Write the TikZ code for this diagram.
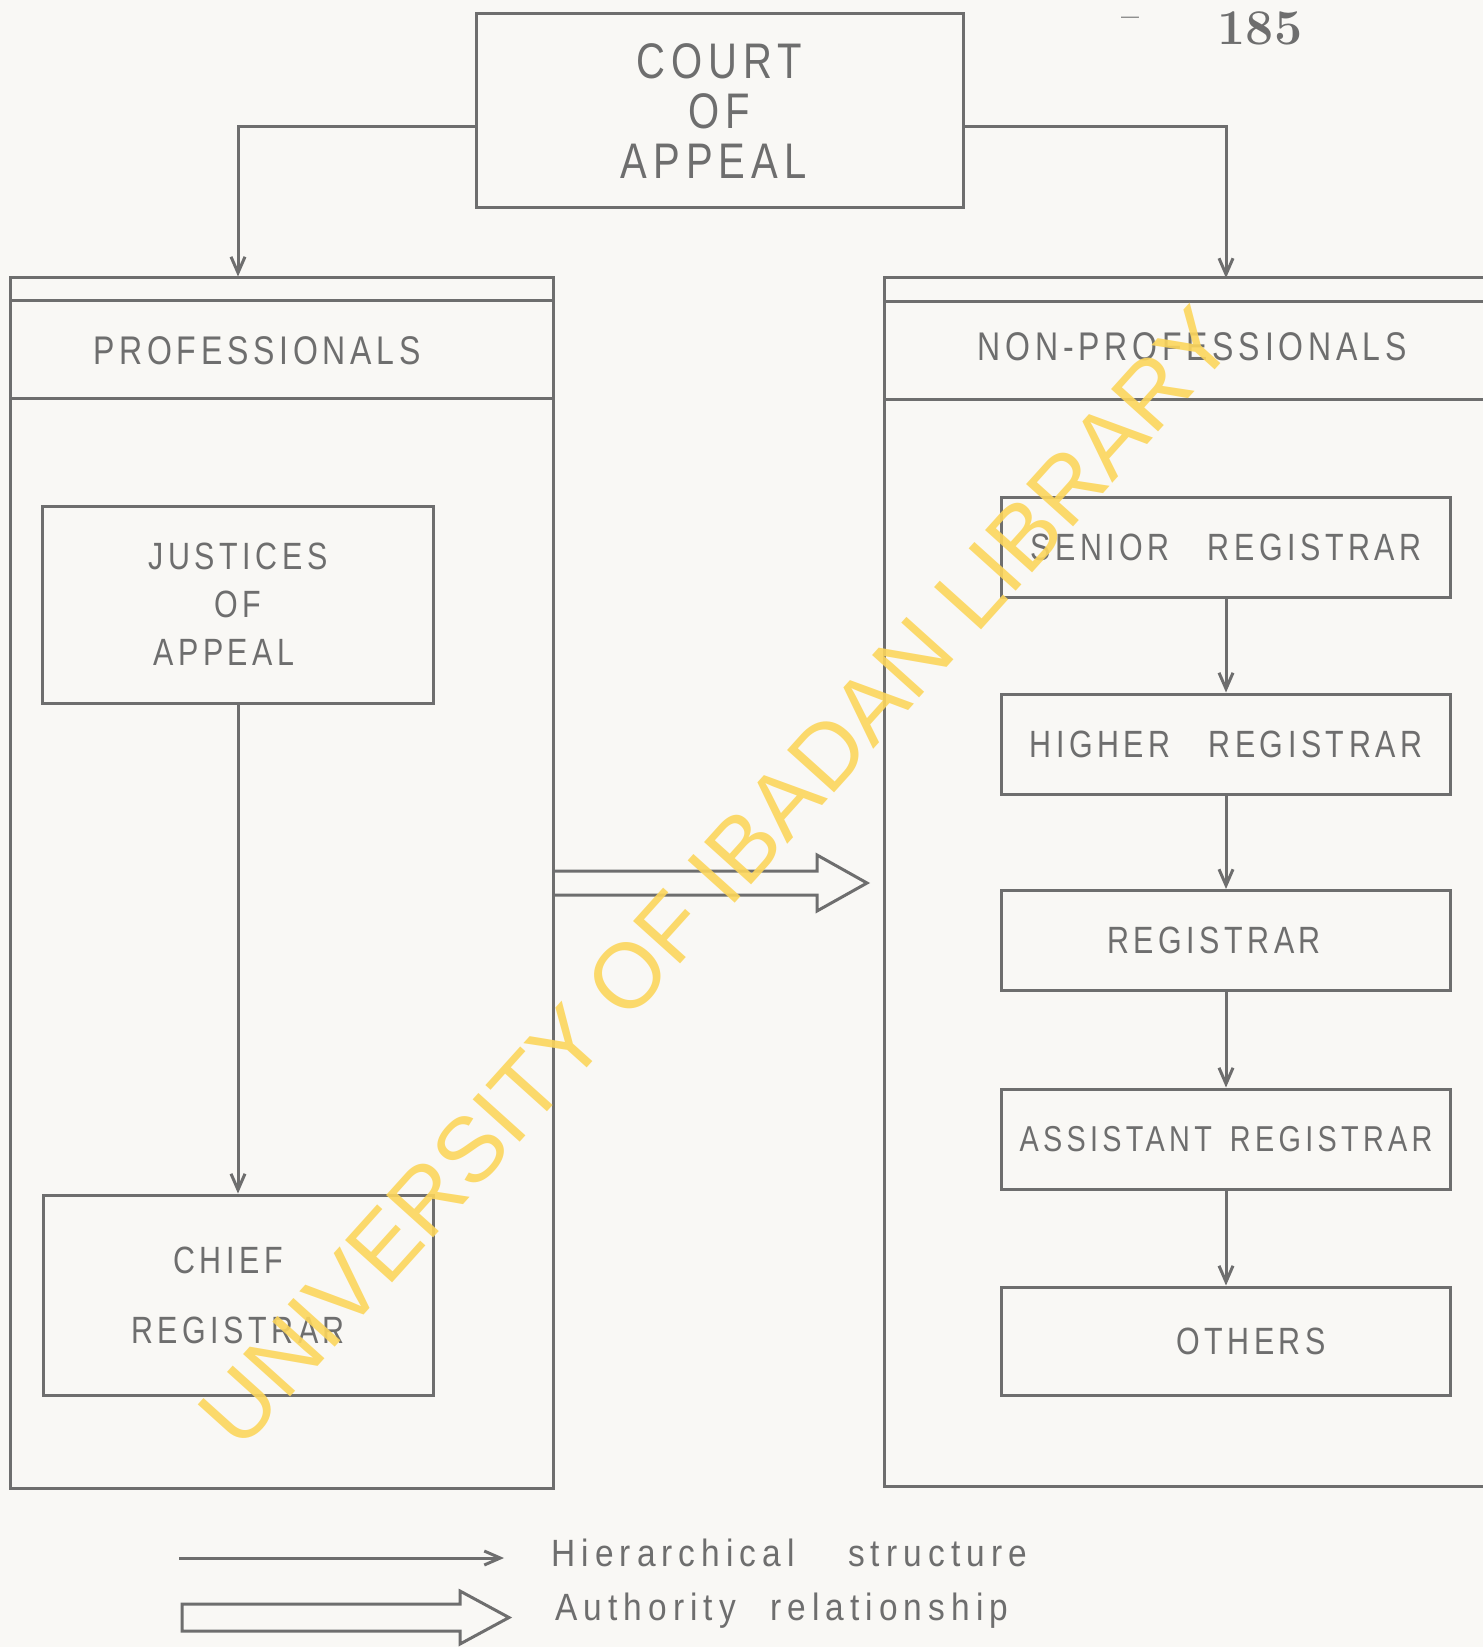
\documentclass[tikz,border=0pt]{standalone}
\usepackage{fontspec}
\newfontfamily\leroy[FakeStretch=0.8,LetterSpace=12]{Liberation Sans}
\newfontfamily\leroylc[FakeStretch=0.88,LetterSpace=16]{Liberation Sans}
\newfontfamily\stampfont{Liberation Sans}
\usetikzlibrary{arrows.meta}
\definecolor{ink}{HTML}{6E6E6E}
\definecolor{paper}{HTML}{F9F8F5}
\definecolor{stamp}{HTML}{FCD65C}
\tikzset{
  box/.style={draw=ink,line width=1.5pt,minimum width=224.5pt,minimum height=50pt,inner sep=0pt},
  caps/.style={text=ink,font=\leroy\fontsize{19}{24}\selectfont,align=center},
  rule/.style={draw=ink,line width=1.5pt},
  hier/.style={draw=ink,line width=1.5pt,-{Straight Barb[length=8pt,width=7pt]}},
  legend/.style={text=ink,font=\leroylc\fontsize{19}{19}\selectfont,anchor=west,inner sep=0pt}
}
\begin{document}
\begin{tikzpicture}[x=0.5pt,y=0.5pt,yscale=-1]
\fill[paper] (0,0) rectangle (1483,1647);
\useasboundingbox (0,0) rectangle (1483,1647);
% page number
\node (dash) [text=ink,font=\bfseries\fontsize{16}{16}\selectfont] at (1130,22) {--};
\node (page) [text=ink,font=\bfseries\fontsize{25}{25}\selectfont] at (1260,28) {185};
% court
\node (court) [box,caps,minimum width=243.5pt,minimum height=97pt,font=\leroy\fontsize{25}{25}\selectfont] at (719.5,111) {COURT\\OF\\APPEAL\hspace*{6pt}};
% professionals panel
\node (pro) [rule,minimum width=271.5pt,minimum height=605pt,inner sep=0pt] at (282,883) {};
\draw[rule] (pro.north west) ++(0,24) -- ++(543,0);
\draw[rule] (pro.north west) ++(0,122) -- ++(543,0);
\node (prolab) [caps,font=\leroy\fontsize{20}{20}\selectfont] at (257,351) {PROFESSIONALS};
\node (jus) [box,caps,minimum width=195.5pt,minimum height=98.5pt] at (238,604.5) {JUSTICES\\OF\\APPEAL\hspace*{14pt}};
\node (chr) [box,caps,minimum width=195pt,minimum height=100pt,font=\leroy\fontsize{19}{35}\selectfont] at (238,1295) {CHIEF\hspace*{10pt}\\REGISTRAR};
% non-professionals panel
\coordinate (npro) at (884,278);
\draw[rule] (1483,278) -- (npro) -- (884,1486) -- (1483,1486);
\draw[rule] (884,302) -- (1483,302);
\draw[rule] (884,399) -- (1483,399);
\node (nprolab) [caps,font=\leroy\fontsize{20}{20}\selectfont] at (1192,347) {NON-PROFESSIONALS};
\node (sen) [box,caps] at (1226,547) {SENIOR\quad REGISTRAR};
\node (hig) [box,caps] at (1226,744) {HIGHER\quad REGISTRAR};
\node (reg) [box,caps] at (1226,940.5) {REGISTRAR\hspace*{12pt}};
\node (asr) [box,caps,font=\leroy\fontsize{18}{24}\selectfont] at (1226,1139) {ASSISTANT\enspace REGISTRAR};
\node (oth) [box,caps,minimum height=54pt] at (1226,1341) {\hspace*{25pt}OTHERS};
% hierarchy
\coordinate (lvl) at (0,127);
\draw[hier] (court.west |- lvl) -| (jus |- pro.north);
\draw[hier] (court.east |- lvl) -| (sen |- npro);
\draw[hier] (jus) -- (chr);
\foreach \a/\b in {sen/hig,hig/reg,reg/asr,asr/oth}
  \draw[hier] (\a) -- (\b);
% authority
\draw[rule,line join=miter] (pro.east) ++(0,-12) -- ++(262,0) -- ++(0,-16) -- ++(50,28) -- ++(-50,28) -- ++(0,-16) -- ++(-262,0);
% legend
\coordinate (hs) at (179,1558);
\coordinate (he) at (504,1558);
\draw[hier] (hs) -- (he);
\node (hlab) [legend] at (551,1553) {Hierarchical\quad\ structure};
\draw[rule,line join=miter] (182,1604) -- (460,1604) -- (460,1591) -- (509,1617.5) -- (460,1644) -- (460,1631) -- (182,1631) -- cycle;
\node (alab) [legend] at (555,1611) {Authority\enspace\ relationship};
% watermark
\node (wmark) [rotate=48,text=stamp,opacity=0.9,font=\stampfont\fontsize{46}{46}\selectfont] at (716,877) {UNIVERSITY OF IBADAN LIBRARY};
\end{tikzpicture}
\end{document}
